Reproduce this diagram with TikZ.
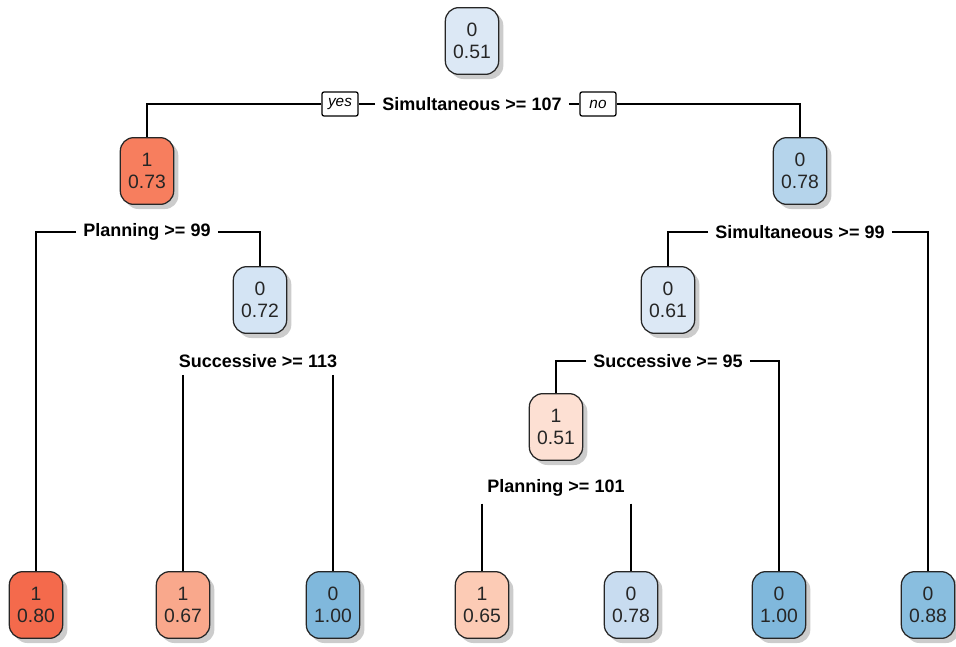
\documentclass[tikz,border=0pt]{standalone}
\usepackage{fontspec}
\setmainfont{Liberation Sans}
\usetikzlibrary{shadows}

\definecolor{redA}{HTML}{F46A4C}
\definecolor{redB}{HTML}{F77E5E}
\definecolor{redC}{HTML}{F9A88C}
\definecolor{redD}{HTML}{FCCBB5}
\definecolor{redE}{HTML}{FDE0D3}
\definecolor{bluA}{HTML}{80B8DC}
\definecolor{bluB}{HTML}{89BEDF}
\definecolor{bluC}{HTML}{B5D4EB}
\definecolor{bluD}{HTML}{C8DCF0}
\definecolor{bluE}{HTML}{D4E4F4}
\definecolor{bluF}{HTML}{DCE8F5}

\begin{document}
\begin{tikzpicture}[x=0.75pt, y=-0.75pt, line width=0.95pt,
    cls/.style={draw=black!85, rounded corners=10pt, minimum width=40pt,
        minimum height=50pt, align=center, text=black!85,
        font=\fontsize{14.5}{17}\selectfont,
        drop shadow={shadow xshift=3.5pt, shadow yshift=-3.5pt, fill=black!40}},
    split/.style={inner sep=5pt, font=\fontsize{13.5}{16}\selectfont\bfseries},
    tag/.style={draw, fill=white, rounded corners=1.5pt, inner sep=2pt,
        minimum width=27pt, minimum height=18pt,
        font=\fontsize{11.5}{13}\selectfont\itshape}]
    \useasboundingbox (0,0) rectangle (956,646);

    % Inner nodes
    \node[cls, fill=bluF] (root) at (472, 41) {0\\0.51};
    \node[cls, fill=redB] (n2) at (147, 171) {1\\0.73};
    \node[cls, fill=bluC] (n3) at (800, 171) {0\\0.78};
    \node[cls, fill=bluE] (n5) at (260, 300) {0\\0.72};
    \node[cls, fill=bluF] (n6) at (668, 300) {0\\0.61};
    \node[cls, fill=redE] (n12) at (556, 427) {1\\0.51};

    % Leaves
    \node[cls, fill=redA] (l1) at (36, 605) {1\\0.80};
    \node[cls, fill=redC] (l2) at (183, 605) {1\\0.67};
    \node[cls, fill=bluA] (l3) at (333, 605) {0\\1.00};
    \node[cls, fill=redD] (l4) at (482, 605) {1\\0.65};
    \node[cls, fill=bluD] (l5) at (631, 605) {0\\0.78};
    \node[cls, fill=bluA] (l6) at (779, 605) {0\\1.00};
    \node[cls, fill=bluB] (l7) at (928, 605) {0\\0.88};

    % Splits
    \node[split] (s1) at (472, 104) {Simultaneous >= 107};
    \node[tag] (yes) at (340, 104) {yes};
    \node[tag] (no) at (598, 104) {no};
    \node[split] (s2) at (147, 232) {Planning >= 99};
    \node[split] (s3) at (800, 232) {Simultaneous >= 99};
    \node[split] (s5) at (258, 361) {Successive >= 113};
    \node[split] (s6) at (668, 361) {Successive >= 95};
    \node[split] (s12) at (556, 488) {Planning >= 101};

    % Branches
    \draw (s1) -- (yes);
    \draw (s1) -- (no);
    \draw (yes) -| (n2);
    \draw (no) -| (n3);
    \draw (s2) -| (l1);
    \draw (s2) -| (n5);
    \draw (s3) -| (n6);
    \draw (s3) -| (l7);
    \draw (s5.south -| l2) -- (l2);
    \draw (s5.south -| l3) -- (l3);
    \draw (s6) -| (n12);
    \draw (s6) -| (l6);
    \draw (s12.south -| l4) -- (l4);
    \draw (s12.south -| l5) -- (l5);
\end{tikzpicture}
\end{document}
